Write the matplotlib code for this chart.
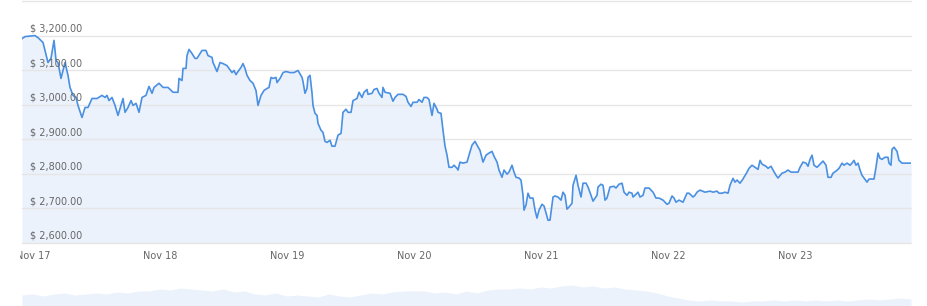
import numpy as np
import pandas as pd
import matplotlib
matplotlib.use("Agg")
import matplotlib.pyplot as plt
import matplotlib.dates as mdates
from matplotlib.transforms import Bbox, TransformedBbox

# hours after Nov 17 00:00 and price in $
hours = [-2.08, -1.51, 0.38, 0.94, 1.89, 2.83, 3.40, 3.97, 4.35, 4.72, 5.29, 6.05, 6.61, 6.99,
         7.56, 8.13, 8.50, 9.26, 9.83, 10.39, 11.15, 12.09, 13.04, 13.61, 13.98, 14.36, 14.93,
         15.50, 16.06, 16.63, 17.01, 17.39, 17.95, 18.52, 18.90, 19.47, 20.03, 20.60, 21.35,
         21.92, 22.49, 22.87, 23.81, 24.57, 25.51, 26.46, 27.40, 27.59, 28.16, 28.35, 28.91,
         29.10, 29.48, 30.05, 30.61, 30.99, 31.94, 32.69, 33.07, 33.83, 34.02, 34.77, 35.34,
         35.91, 36.66, 37.04, 37.61, 37.99, 38.36, 38.74, 39.31, 39.69, 40.06, 40.44, 41.01,
         41.58, 42.14, 42.52, 43.09, 43.65, 44.22, 44.60, 44.98, 45.36, 45.92, 46.11, 46.68,
         47.25, 47.81, 48.57, 49.32, 50.08, 50.84, 51.02, 51.40, 51.78, 51.97, 52.35, 52.73,
         52.91, 53.29, 53.67, 53.86, 54.43, 54.80, 55.18, 55.56, 56.13, 56.50, 57.07, 57.64,
         58.21, 58.58, 59.15, 59.53, 60.10, 60.47, 61.23, 61.61, 62.17, 62.55, 63.12, 63.31,
         64.06, 64.44, 65.01, 65.39, 65.95, 66.14, 66.52, 67.47, 68.03, 68.41, 68.98, 69.92,
         70.49, 70.87, 71.43, 71.81, 72.57, 72.95, 73.51, 73.89, 74.46, 74.84, 75.40, 75.78,
         76.35, 76.54, 77.10, 77.48, 77.86, 78.24, 78.61, 79.18, 79.56, 80.13, 80.32, 80.69,
         81.26, 82.02, 82.39, 82.96, 83.53, 83.91, 84.47, 85.04, 85.61, 86.17, 86.74, 87.12,
         87.69, 88.06, 88.63, 89.01, 89.58, 89.95, 90.52, 90.90, 91.28, 91.84, 92.22, 92.60,
         92.79, 93.17, 93.54, 93.92, 94.49, 94.87, 95.24, 95.62, 96.19, 96.57, 96.95, 97.32,
         97.70, 98.27, 98.65, 99.21, 99.78, 100.16, 100.54, 100.91, 101.29, 101.86, 102.05,
         102.62, 102.99, 103.56, 103.94, 104.51, 104.88, 105.45, 105.83, 106.58, 106.77,
         107.34, 107.72, 108.10, 108.47, 109.04, 109.80, 110.17, 110.74, 111.31, 111.69,
         112.25, 112.63, 113.20, 113.39, 113.96, 114.33, 114.71, 115.28, 115.65, 116.41,
         117.17, 117.73, 118.30, 119.06, 119.81, 120.19, 120.76, 121.14, 121.51, 122.08,
         122.84, 123.59, 123.97, 124.73, 125.10, 125.48, 126.05, 126.99, 127.94, 128.50,
         129.26, 129.64, 130.20, 130.77, 131.34, 131.72, 132.28, 132.66, 133.04, 133.61,
         134.17, 134.93, 135.31, 135.87, 136.44, 137.01, 137.39, 137.77, 138.52, 138.90,
         139.47, 139.85, 140.41, 140.79, 141.55, 142.11, 142.68, 143.25, 143.81, 144.57,
         144.95, 145.51, 146.08, 146.46, 146.84, 147.21, 147.59, 148.16, 148.92, 149.30,
         149.86, 150.24, 150.81, 151.18, 151.75, 152.32, 152.89, 153.26, 153.83, 154.40,
         154.77, 155.15, 155.53, 155.91, 156.29, 156.66, 157.04, 157.61, 157.99, 158.55,
         158.93, 159.31, 159.69, 160.06, 160.44, 161.01, 161.57, 161.76, 162.14, 162.33,
         162.71, 163.28, 163.65, 164.22, 164.79, 165.92]
prices = [3191, 3197, 3200, 3194, 3180, 3122, 3134, 3186, 3128, 3122, 3076, 3122, 3085, 3050,
          3027, 3021, 2998, 2963, 2992, 2992, 3018, 3018, 3027, 3021, 3027, 3012, 3021,
          2998, 2969, 2998, 3018, 2978, 2992, 3012, 2998, 3004, 2978, 3021, 3027,
          3053, 3033, 3050, 3062, 3050, 3050, 3036, 3036, 3076, 3070, 3105, 3105,
          3142, 3160, 3148, 3134, 3134, 3157, 3157, 3142, 3137, 3122, 3096, 3122,
          3119, 3113, 3105, 3093, 3099, 3087, 3096, 3108, 3119, 3105, 3085, 3070,
          3062, 3041, 2998, 3027, 3041, 3047, 3050, 3079, 3076, 3079, 3064, 3076,
          3093, 3096, 3093, 3093, 3099, 3079, 3067, 3033, 3047, 3079, 3085, 3033,
          2998, 2975, 2969, 2946, 2926, 2920, 2894, 2891, 2897, 2880, 2880, 2912,
          2917, 2978, 2987, 2978, 2978, 3012, 3018, 3036, 3021, 3036, 3044, 3030,
          3033, 3044, 3047, 3033, 3021, 3050, 3036, 3033, 3010, 3021, 3030, 3030,
          3024, 3007, 2995, 3007, 3007, 3015, 3007, 3021, 3021, 3015, 2969, 3004,
          2987, 2978, 2975, 2926, 2880, 2854, 2819, 2819, 2825, 2816, 2811, 2834,
          2831, 2834, 2854, 2883, 2894, 2883, 2868, 2834, 2854, 2860, 2865, 2851,
          2834, 2811, 2790, 2811, 2799, 2805, 2825, 2805, 2790, 2788, 2782, 2738,
          2695, 2710, 2744, 2730, 2730, 2695, 2672, 2695, 2712, 2707, 2687, 2666,
          2666, 2733, 2736, 2733, 2724, 2747, 2738, 2698, 2704, 2715, 2767,
          2796, 2767, 2733, 2773, 2773, 2762, 2738, 2721, 2738, 2762,
          2770, 2767, 2724, 2730, 2762, 2764, 2759, 2770, 2773, 2747,
          2738, 2747, 2744, 2733, 2741, 2747, 2733, 2738, 2759, 2759,
          2747, 2730, 2730, 2724, 2712, 2715, 2736, 2730, 2718, 2724,
          2718, 2744, 2744, 2733, 2738, 2747, 2753, 2747, 2750, 2747,
          2750, 2744, 2744, 2747, 2744, 2767, 2787, 2776, 2782, 2773,
          2785, 2805, 2816, 2825, 2819, 2813, 2839, 2828, 2822, 2816,
          2822, 2811, 2796, 2788, 2802, 2805, 2811, 2805, 2805, 2805,
          2819, 2834, 2831, 2822, 2842, 2854, 2825, 2819, 2831, 2837,
          2825, 2790, 2790, 2802, 2808, 2816, 2831, 2825, 2831, 2825,
          2831, 2839, 2825, 2831, 2811, 2796, 2788, 2776, 2785, 2785,
          2785, 2819, 2860, 2845, 2842, 2848, 2848, 2831, 2825, 2871,
          2877, 2865, 2839, 2831, 2831, 2831]

# navigator series (relative heights), every 2 hours from Nov 16 22:00
nav_hours = [-2, 0, 2, 4, 6, 8, 10, 12, 14, 16, 18, 20, 22, 24, 26, 28, 30, 32, 34, 36, 38, 40,
             42, 44, 46, 48, 50, 52, 54, 56, 58, 60, 62, 64, 66, 68, 70, 72, 74, 76, 78, 80,
             82, 84, 86, 88, 90, 92, 94, 96, 98, 100, 102, 104, 106, 108, 110, 112, 114, 116,
             118, 120, 122, 124, 126, 128, 130, 132, 134, 136, 138, 140, 142, 144, 146, 148,
             150, 152, 154, 156, 158, 160, 162, 164, 166]
nav_vals = [11, 12, 10, 12, 13, 11, 12, 13, 12, 14, 13, 15, 15, 17, 16, 18, 17, 16, 15, 17,
            14, 15, 12, 11, 13, 10, 11, 10, 9, 12, 10, 9, 11, 13, 12, 14, 15, 15, 15, 13, 14,
            12, 15, 13, 16, 17, 17, 18, 17, 19, 18, 20, 21, 19, 20, 18, 19, 17, 16, 15, 13,
            10, 8, 6, 5, 6, 5, 5, 4, 5, 5, 6, 5, 6, 5, 6, 5, 6, 5, 6, 7, 6, 7, 8, 7]

y_ticks = [2600, 2700, 2800, 2900, 3000, 3100, 3200, 3300]

start = pd.Timestamp("2021-11-17")
t = start + pd.to_timedelta(hours, unit="h")
tn = start + pd.to_timedelta(nav_hours, unit="h")

line_c = "#4a90e2"
fill_c = "#ebf2fc"
grid_c = "#e6e6e6"
text_c = "#666666"

fig = plt.figure(figsize=(9.28, 3.06), dpi=100)
ax = fig.add_axes([22 / 928, 63 / 306, 889 / 928, 242 / 306])
ax.fill_between(t, prices, y_ticks[0], color=fill_c, lw=0, zorder=1)
ax.plot(t, prices, color=line_c, lw=1.2, zorder=3)
ax.set_xlim(t.min(), t.max())
ax.set_ylim(y_ticks[0], y_ticks[-1])
for v in y_ticks:
    ax.axhline(v, color=grid_c, lw=1, zorder=2, clip_on=False)
for v in y_ticks[:-1]:
    ax.annotate(f"$ {v:,.2f}", xy=(8 / 889, v), xycoords=("axes fraction", "data"),
                xytext=(0, 1.5), textcoords="offset points", ha="left", va="bottom",
                fontsize=7, color=text_c, zorder=4)
ax.set_yticks([])
ax.xaxis.set_major_locator(mdates.DayLocator())
ax.xaxis.set_major_formatter(mdates.DateFormatter("%b %d"))
ax.tick_params(axis="x", length=0, pad=6, labelsize=7, labelcolor=text_c)
for s in ax.spines.values():
    s.set_visible(False)

fig.canvas.draw()
clip = TransformedBbox(Bbox([[20 / 928, 0], [1, 1]]), fig.transFigure)
for lbl in ax.get_xticklabels():
    lbl.set_clip_box(clip)
    lbl.set_clip_on(True)

nav = fig.add_axes([22 / 928, 0, 889 / 928, 24 / 306])
nav.fill_between(tn, nav_vals, 0, color=fill_c, lw=0)
nav.set_xlim(tn.min(), tn.max())
nav.set_ylim(0, 24)
nav.axis("off")

fig.savefig("out.png", dpi=100)
